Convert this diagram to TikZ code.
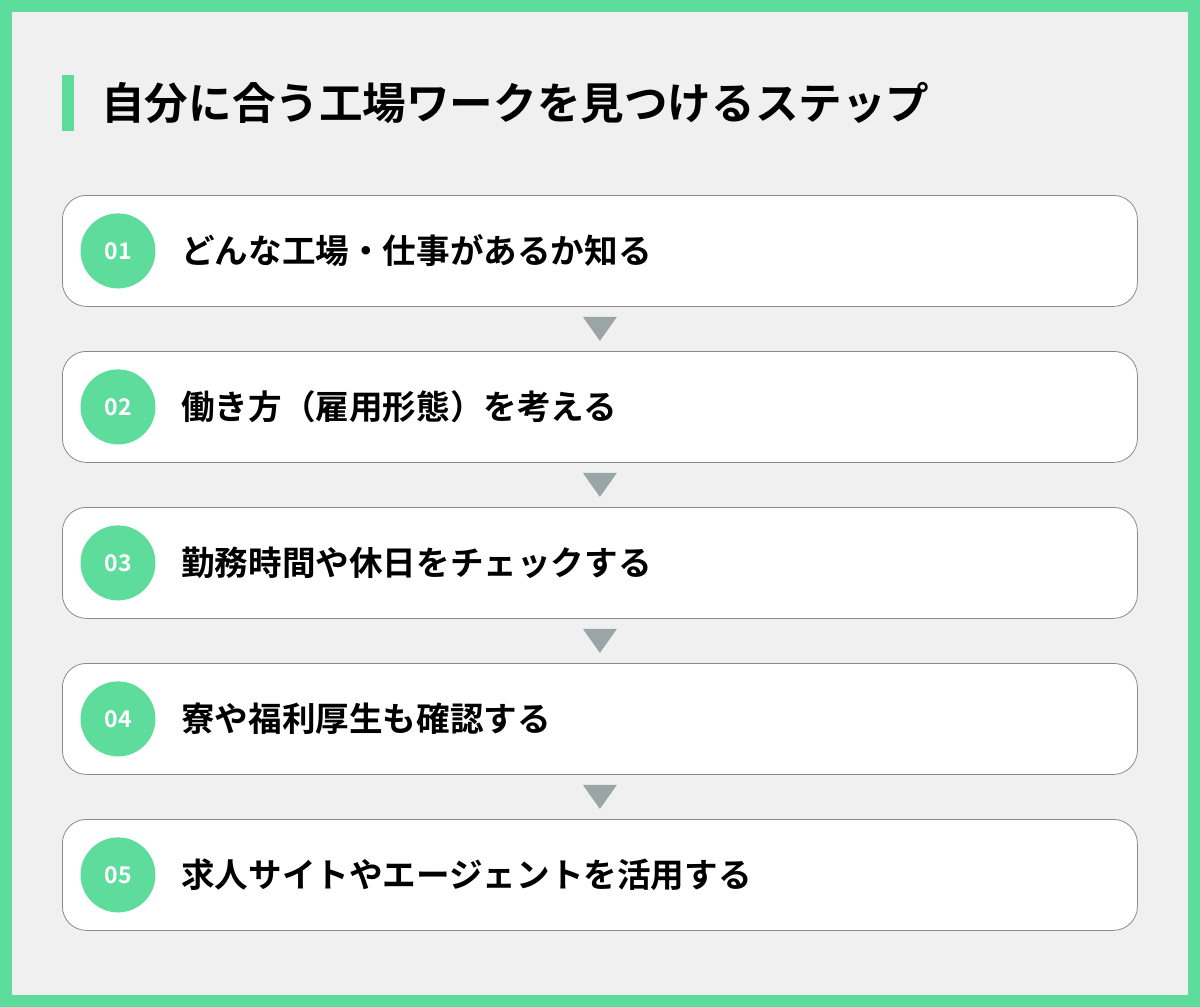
\documentclass[tikz,border=0pt]{standalone}
\usepackage{fontspec}
\usetikzlibrary{calc}
\newfontfamily\cjk{Noto Sans CJK JP Bold}
\newfontfamily\numf{Noto Sans CJK JP Bold}
\definecolor{grn}{HTML}{5EDC9C}
\definecolor{bgc}{HTML}{F0F0F0}
\definecolor{arr}{HTML}{9AA6A6}
\definecolor{edg}{HTML}{8A8A8A}
\tikzset{
  stepbox/.style={draw=edg, line width=0.8pt, fill=white, rounded corners=24pt, minimum width=1075pt, minimum height=111pt, anchor=north west, inner sep=0pt},
  numc/.style={circle, fill=grn, minimum size=75pt, inner sep=0pt, text=white, font=\numf\fontsize{23}{23}\selectfont},
  steptxt/.style={anchor=west, inner sep=0pt, font=\cjk\fontsize{33.6}{33.6}\selectfont},
  downarr/.style={fill=arr},
}
\begin{document}
\begin{tikzpicture}[x=1pt,y=-1pt]
\useasboundingbox (0,0) rectangle (1200,1007);
\fill[grn] (0,0) rectangle (1200,1007);
\fill[bgc] (12,12) rectangle (1188,995);
\fill[grn] (62,75) rectangle (74,131);
\node[anchor=west, inner sep=0pt, font=\cjk\fontsize{43.6}{43.6}\selectfont] (title) at (101,103) {自分に合う工場ワークを見つけるステップ};
\foreach \i/\t [count=\k from 0] in {01/どんな工場・仕事があるか知る, 02/働き方（雇用形態）を考える, 03/勤務時間や休日をチェックする, 04/寮や福利厚生も確認する, 05/求人サイトやエージェントを活用する} {
  \node[stepbox] (b\i) at (62,{195+156*\k}) {};
  \node[numc] (c\i) at ($(b\i.west)+(56,0)$) {\i};
  \node[steptxt] (t\i) at ($(b\i.west)+(119,0)$) {\t};
}
\foreach \a/\b in {01/02, 02/03, 03/04, 04/05} {
  \coordinate (m\a) at ($(b\a.south)!0.5!(b\b.north)$);
  \fill[downarr] ($(m\a)+(-17,-12)$) -- ($(m\a)+(17,-12)$) -- ($(m\a)+(0,12)$) -- cycle;
}
\end{tikzpicture}
\end{document}
